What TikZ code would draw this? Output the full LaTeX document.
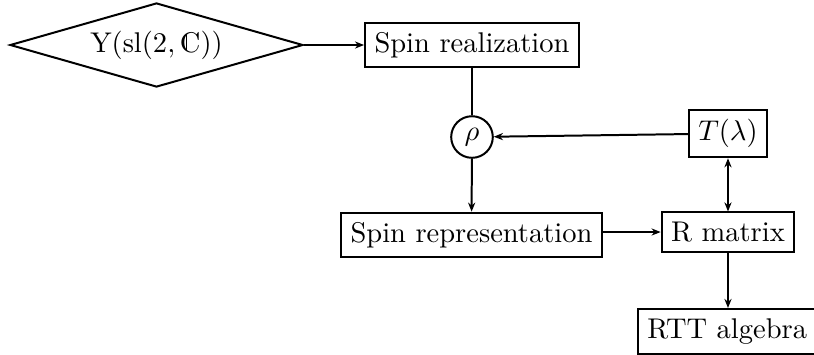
\documentclass[tikz,border=0pt]{standalone}
\usetikzlibrary{shapes.geometric,arrows.meta}
% double-struck C: roman C with an inner vertical stroke
\newcommand{\dblC}{\mbox{\ooalign{C\cr\kern0.21em\vrule height0.62em depth-0.05em width0.04em\cr}}}
\begin{document}
\begin{tikzpicture}[x=0.35088pt,y=-0.35088pt,
  line width=0.7pt,
  box/.style={draw,rectangle,inner sep=3.33pt},
  decision/.style={draw,diamond,aspect=3.5,inner sep=0pt,
    minimum width=102.8pt,minimum height=29.5pt},
  hub/.style={draw,circle,inner sep=0pt,minimum size=14.6pt},
  tip/.style={-{Stealth[length=3.2pt,width=2.5pt]}},
  tips/.style={{Stealth[length=3.2pt,width=2.5pt]}-{Stealth[length=3.2pt,width=2.5pt]}}]
  \useasboundingbox (0,0) rectangle (814,354);
  \node[decision] (yang) at (156.5,45) {$\mathrm{Y}(\mathrm{sl}(2,\dblC))$};
  \node[box] (real) at (472,45) {Spin realization};
  \node[hub] (rho) at (472,137) {$\rho$};
  \node[box] (T) at (728,133.5) {$T(\lambda)$};
  \node[box] (rep) at (471.5,235) {Spin representation};
  \node[box] (R) at (728,232) {R matrix};
  \node[box,anchor=north west] (RTT) at (637,308) {RTT algebra};
  \draw[tip] (yang) -- (real);
  \draw (real) -- (rho);
  \draw[tip] (T) -- (rho);
  \draw[tip] (rho) -- (rep);
  \draw[tip] (rep.east |- R.west) -- (R.west);
  \draw[tips] (T) -- (R);
  \draw[tip] (R) -- (R |- RTT.north);
\end{tikzpicture}
\end{document}
